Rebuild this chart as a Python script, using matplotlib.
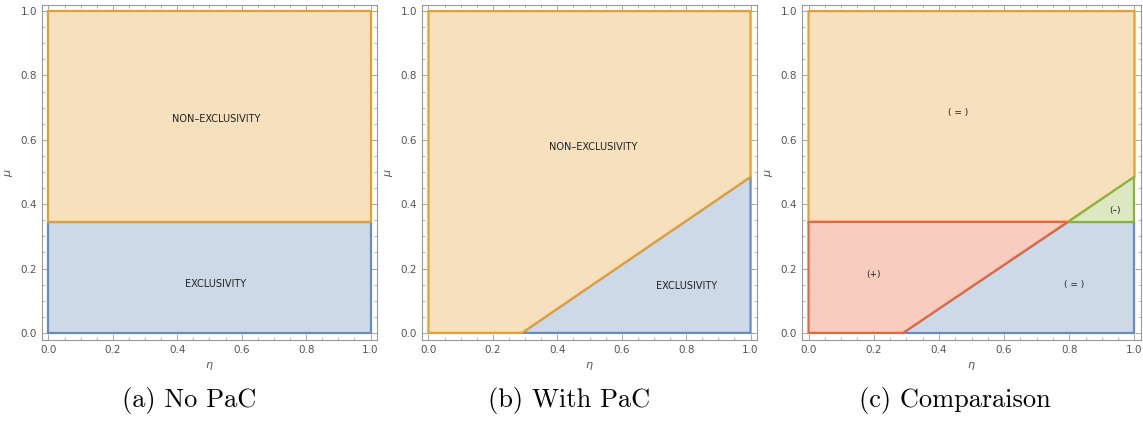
import matplotlib.pyplot as plt
from matplotlib.ticker import MultipleLocator

# region boundaries
mu_threshold = 0.345          # horizontal split, no PaC
diag_eta = [0.29, 1.0]        # PaC boundary, eta values
diag_mu = [0.0, 0.485]        # PaC boundary, mu values

captions = ["(a) No PaC", "(b) With PaC", "(c) Comparaison"]

orange_fill, orange_edge = "#f6e0bd", "#e49f32"
blue_fill, blue_edge = "#cdd9e7", "#6a8bbd"
red_fill, red_edge = "#f8cdc0", "#e9663c"
green_fill, green_edge = "#dde7c1", "#8cb23a"

eta_cross = diag_eta[0] + mu_threshold * (diag_eta[1] - diag_eta[0]) / (diag_mu[1] - diag_mu[0])

fig = plt.figure(figsize=(11.43, 4.23), dpi=100)
axes_pos = [(42, 377), (422, 757), (802, 1141)]
caption_x = [189, 569, 955]
axs = []
for x0, x1 in axes_pos:
    ax = fig.add_axes([x0 / 1143, 1 - 340 / 423, (x1 - x0) / 1143, 335 / 423])
    axs.append(ax)


def poly(ax, xs, ys, fc, ec):
    ax.fill(xs, ys, facecolor=fc, edgecolor=ec, linewidth=1.6, zorder=2)


lab = dict(ha="center", va="center", color="#222222")

# (a)
ax = axs[0]
poly(ax, [0, 1, 1, 0], [0, 0, mu_threshold, mu_threshold], blue_fill, blue_edge)
poly(ax, [0, 1, 1, 0], [mu_threshold, mu_threshold, 1, 1], orange_fill, orange_edge)
ax.text(0.52, 0.665, "NON\u2013EXCLUSIVITY", fontsize=7, **lab)
ax.text(0.52, 0.152, "EXCLUSIVITY", fontsize=7, **lab)

# (b)
ax = axs[1]
poly(ax, [diag_eta[1], diag_eta[0], diag_eta[1]], [0, diag_mu[0], diag_mu[1]], blue_fill, blue_edge)
poly(ax, [0, diag_eta[0], diag_eta[1], 1, 0], [0, 0, diag_mu[1], 1, 1], orange_fill, orange_edge)
ax.text(0.51, 0.578, "NON\u2013EXCLUSIVITY", fontsize=7, **lab)
ax.text(0.80, 0.146, "EXCLUSIVITY", fontsize=7, **lab)

# (c)
ax = axs[2]
poly(ax, [diag_eta[0], 1, 1, eta_cross], [0, 0, mu_threshold, mu_threshold], blue_fill, blue_edge)
poly(ax, [0, eta_cross, 1, 1, 0], [mu_threshold, mu_threshold, diag_mu[1], 1, 1], orange_fill, orange_edge)
poly(ax, [eta_cross, 1, 1], [mu_threshold, mu_threshold, diag_mu[1]], green_fill, green_edge)
poly(ax, [0, diag_eta[0], eta_cross, 0], [0, 0, mu_threshold, mu_threshold], red_fill, red_edge)
ax.text(0.46, 0.684, "( = )", fontsize=6.5, **lab)
ax.text(0.20, 0.183, "(+)", fontsize=6.5, **lab)
ax.text(0.816, 0.152, "( = )", fontsize=6.5, **lab)
ax.text(0.94, 0.38, "(\u2013)", fontsize=6.5, **lab)

for ax, cap, cx in zip(axs, captions, caption_x):
    ax.set_xlim(-0.02, 1.02)
    ax.set_ylim(-0.022, 1.019)
    ax.xaxis.set_major_locator(MultipleLocator(0.2))
    ax.yaxis.set_major_locator(MultipleLocator(0.2))
    ax.xaxis.set_minor_locator(MultipleLocator(0.05))
    ax.yaxis.set_minor_locator(MultipleLocator(0.05))
    ax.tick_params(which="both", direction="in", top=True, right=True,
                   color="#999999", labelsize=7.5, labelcolor="#555555")
    ax.tick_params(which="major", length=4, width=0.6)
    ax.tick_params(which="minor", length=2, width=0.5)
    ax.xaxis.set_major_formatter(plt.FuncFormatter(lambda v, p: f"{v:.1f}"))
    ax.yaxis.set_major_formatter(plt.FuncFormatter(lambda v, p: f"{v:.1f}"))
    for s in ax.spines.values():
        s.set_color("#999999")
        s.set_linewidth(0.8)
    ax.set_xlabel(r"$\eta$", fontsize=8, color="#555555", labelpad=4)
    ax.set_ylabel(r"$\mu$", fontsize=8, color="#555555", labelpad=4)
    fig.text(cx / 1143, 1 - 400 / 423, cap, ha="center", va="center",
             fontsize=19, family=["cmr10", "DejaVu Serif"])

fig.savefig("out.png", dpi=100)
